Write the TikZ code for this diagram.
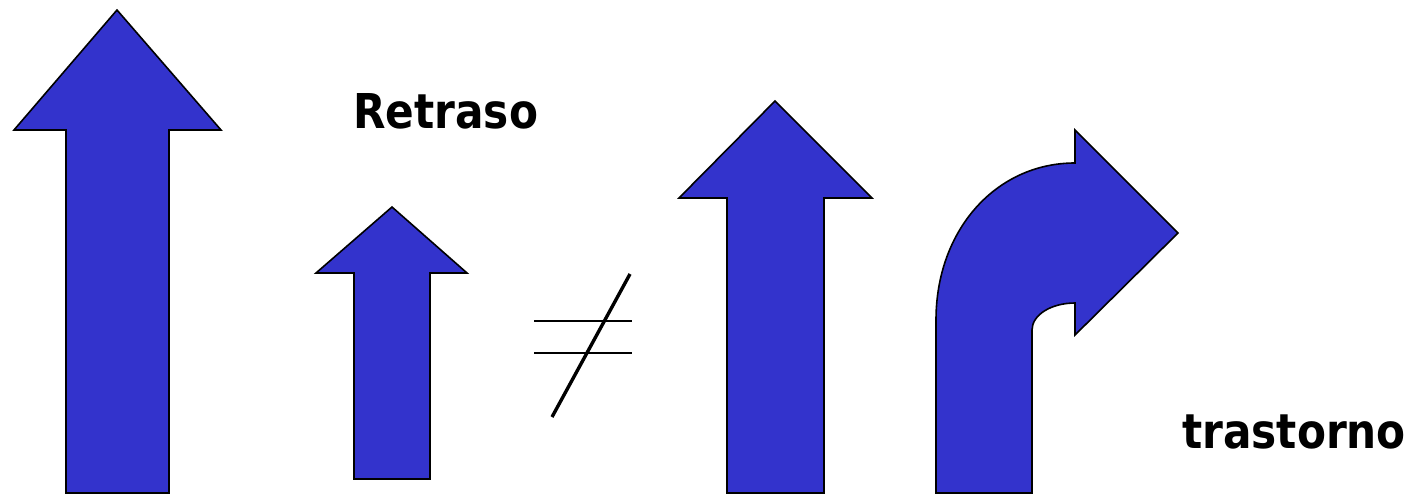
\documentclass[tikz,border=0pt]{standalone}
\usepackage{fontspec}
\setmainfont{DejaVu Sans}
\usepackage{tikz}

\definecolor{arrowblue}{RGB}{51,51,204}

\begin{document}
\begin{tikzpicture}[
    x=1pt, y=-1pt,
    bigarrow/.style={draw=black, line width=1.6pt, fill=arrowblue, line join=miter},
    label/.style={anchor=base west, inner sep=0pt, font=\bfseries\fontsize{48}{58}\selectfont, xscale=0.88},
    thinline/.style={line width=1.8pt},
    slashline/.style={line width=3.4pt}
  ]

    % Frame
    \useasboundingbox (0,0) rectangle (1415,495);

    % Left - tall arrow
    \draw[bigarrow] (66,493) -- (66,130) -- (14,130) -- (117,10) -- (221,130) -- (169,130) -- (169,493) -- cycle;

    % Second - short arrow and its label
    \draw[bigarrow] (354,479) -- (354,273) -- (316,273) -- (392,207) -- (467,273) -- (430,273) -- (430,479) -- cycle;
    \node[label] (retraso) at (353,128) {Retraso};

    % Middle - not equal sign
    \coordinate (eqa) at (534,321);
    \coordinate (eqb) at (632,321);
    \coordinate (eqc) at (534,353);
    \coordinate (eqd) at (632,353);
    \coordinate (slashtop) at (630,274);
    \coordinate (slashbot) at (552,417);
    \draw[thinline] (eqa) -- (eqb);
    \draw[thinline] (eqc) -- (eqd);
    \draw[slashline] (slashtop) -- (slashbot);

    % Third - straight arrow
    \draw[bigarrow] (727,493) -- (727,198) -- (679,198) -- (775,101) -- (872,198) -- (824,198) -- (824,493) -- cycle;

    % Right - bent arrow and its label
    \draw[bigarrow] (936,493) -- (936,320)
        .. controls (936,230) and (996,163) .. (1075,163)
        -- (1075,130) -- (1178,233) -- (1075,335) -- (1075,303)
        .. controls (1051,303) and (1032,315) .. (1032,330)
        -- (1032,493) -- cycle;
    \node[label] (trastorno) at (1182,448) {trastorno};

  \end{tikzpicture}
\end{document}
